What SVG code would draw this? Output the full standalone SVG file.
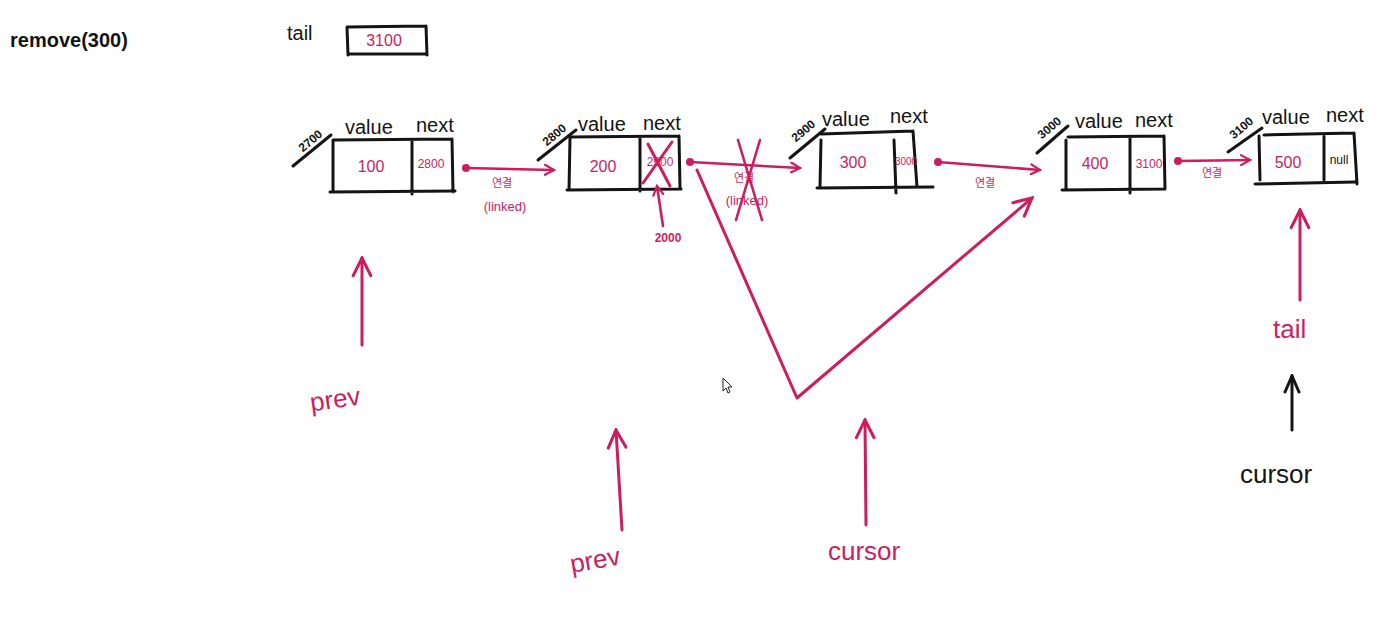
<svg xmlns="http://www.w3.org/2000/svg" width="1395" height="625" viewBox="0 0 1395 625">
<defs>
<style>
.bk{fill:none;stroke:#141414;stroke-width:3;stroke-linecap:round}
.pk{fill:none;stroke:#cc1d5f;stroke-width:2.6;stroke-linecap:round;stroke-linejoin:round}
.pk3{fill:none;stroke:#cc1d5f;stroke-width:3;stroke-linecap:round;stroke-linejoin:round}
.tb{font-family:"Liberation Sans","Noto Sans",sans-serif;fill:#141414}
.tp{font-family:"Liberation Sans","Noto Sans CJK KR",sans-serif;fill:#cc1d5f}
.lbl{font-size:20px}
.val{font-size:16px;text-anchor:middle}
.nx{font-size:12px;text-anchor:middle}
.adr{font-size:12px;font-weight:bold;text-anchor:middle}
.kr{font-family:"Noto Sans CJK KR",sans-serif;fill:#cc1d5f;font-size:11px;text-anchor:middle}
.lk{font-size:13px;text-anchor:middle}
.big{font-size:26px}
</style>
<marker id="ap" viewBox="0 0 12 12" refX="10" refY="6" markerWidth="12" markerHeight="12" markerUnits="userSpaceOnUse" orient="auto">
<path d="M1,1 L10,6 L1,11" fill="none" stroke="#cc1d5f" stroke-width="2.2" stroke-linecap="round"/>
</marker>
<marker id="apl" viewBox="0 0 20 20" refX="18" refY="10" markerWidth="22" markerHeight="22" markerUnits="userSpaceOnUse" orient="auto">
<path d="M2,2 L18,10 L2,18" fill="none" stroke="#cc1d5f" stroke-width="2.8" stroke-linecap="round"/>
</marker>
<marker id="ab" viewBox="0 0 20 20" refX="18" refY="10" markerWidth="20" markerHeight="20" markerUnits="userSpaceOnUse" orient="auto">
<path d="M2,3 L18,10 L2,17" fill="none" stroke="#141414" stroke-width="3" stroke-linecap="round"/>
</marker>
</defs>
<rect width="1395" height="625" fill="#ffffff"/>

<g id="header">
<text class="tb lbl" x="10" y="47" font-weight="bold">remove(300)</text>
<text class="tb lbl" x="287" y="40">tail</text>
<path class="bk" d="M347,27 L426,26 M347,27 L348,55 M348,54 L427,54 M426,26 L427,55"/>
<text class="tp val" x="384" y="46">3100</text>
</g>

<g id="node1">
<path class="bk" d="M333,141 L333,192 M333,140 L452,139 M452,139 L453,192 M330,192 L455,191 M412,140 L412,194"/>
<path class="bk" d="M293,166 L331,135"/>
<text class="tb adr" transform="translate(313,144) rotate(-40)">2700</text>
<text class="tb lbl" x="345" y="134">value</text>
<text class="tb lbl" x="416" y="132">next</text>
<text class="tp val" x="371" y="172">100</text>
<text class="tp nx" x="431" y="168">2800</text>
</g>

<g id="node2">
<path class="bk" d="M570,138 L569,190 M570,137 L679,136 M679,136 L680,188 M567,190 L681,189 M640,138 L640,191"/>
<path class="bk" d="M538,160 L576,130"/>
<text class="tb adr" transform="translate(557,138) rotate(-40)">2800</text>
<text class="tb lbl" x="578" y="131">value</text>
<text class="tb lbl" x="643" y="130">next</text>
<text class="tp val" x="603" y="172">200</text>
<text class="tp nx" x="660" y="166">2900</text>
<path class="pk3" d="M643,183 L672,142 M648,144 L670,186"/>
</g>

<g id="node3">
<path class="bk" d="M821,140 L820,186 M821,134 L913,131 M913,131 L917,187 M817,188 L933,187 M894,140 L896,193"/>
<path class="bk" d="M790,158 L825,129"/>
<text class="tb adr" transform="translate(806,134) rotate(-40)">2900</text>
<text class="tb lbl" x="822" y="126">value</text>
<text class="tb lbl" x="890" y="123">next</text>
<text class="tp val" x="853" y="168">300</text>
<text class="tp" x="906" y="165" font-size="10" text-anchor="middle">3000</text>
</g>

<g id="node4">
<path class="bk" d="M1066,140 L1066,189 M1068,137 L1164,136 M1164,136 L1165,189 M1062,190 L1164,189 M1130,138 L1130,193"/>
<path class="bk" d="M1037,153 L1068,126"/>
<text class="tb adr" transform="translate(1052,131) rotate(-40)">3000</text>
<text class="tb lbl" x="1075" y="128">value</text>
<text class="tb lbl" x="1135" y="127">next</text>
<text class="tp val" x="1095" y="169">400</text>
<text class="tp nx" x="1149" y="168">3100</text>
</g>

<g id="node5">
<path class="bk" d="M1259,136 L1260,180 M1264,135 L1354,133 M1354,133 L1357,184 M1255,184 L1355,182 M1324,136 L1324,180"/>
<path class="bk" d="M1228,152 L1262,128"/>
<text class="tb adr" transform="translate(1244,131) rotate(-40)">3100</text>
<text class="tb lbl" x="1262" y="124">value</text>
<text class="tb lbl" x="1326" y="122">next</text>
<text class="tp val" x="1288" y="168">500</text>
<text class="tb nx" x="1339" y="164">null</text>
</g>

<g id="connectors">
<circle cx="466" cy="168" r="4" fill="#cc1d5f"/>
<path class="pk" d="M466,168 L554,170" marker-end="url(#ap)"/>
<text class="kr" x="502" y="187">연결</text>
<text class="tp lk" x="505" y="211">(linked)</text>

<circle cx="690" cy="162" r="4" fill="#cc1d5f"/>
<path class="pk" d="M690,162 L800,168" marker-end="url(#ap)"/>
<text class="kr" x="744" y="182">연결</text>
<text class="tp lk" x="747" y="205">(linked)</text>
<path class="pk" d="M738,140 L762,220 M760,140 L736,220"/>

<circle cx="938" cy="162" r="4" fill="#cc1d5f"/>
<path class="pk" d="M938,162 L1040,170" marker-end="url(#ap)"/>
<text class="kr" x="985" y="187">연결</text>

<circle cx="1178" cy="161" r="4" fill="#cc1d5f"/>
<path class="pk" d="M1178,161 L1250,160" marker-end="url(#ap)"/>
<text class="kr" x="1212" y="177">연결</text>

<path class="pk3" d="M697,170 L797,398 L1032,198" marker-end="url(#apl)"/>

<path class="pk" d="M663,226 L657,186" marker-end="url(#ap)"/>
<text class="tp nx" x="668" y="242" font-weight="bold">2000</text>

<path class="pk3" d="M362,345 L362,258" marker-end="url(#apl)"/>
<text class="tp big" x="310" y="408" transform="rotate(-8,335,400)">prev</text>

<path class="pk3" d="M622,530 L616,430" marker-end="url(#apl)"/>
<text class="tp big" x="570" y="568" transform="rotate(-10,600,560)">prev</text>

<path class="pk3" d="M866,525 L865,420" marker-end="url(#apl)"/>
<text class="tp big" x="828" y="560">cursor</text>

<path class="pk3" d="M1300,300 L1300,210" marker-end="url(#apl)"/>
<text class="tp big" x="1273" y="338">tail</text>

<path class="bk" d="M1292,430 L1292,376" marker-end="url(#ab)"/>
<text class="tb big" x="1240" y="483">cursor</text>
</g>

<g id="mouse">
<path d="M723,378 L723,391 L726,388 L728,393 L730,392 L728,387 L732,387 Z" fill="#fff" stroke="#222" stroke-width="1"/>
</g>
</svg>
